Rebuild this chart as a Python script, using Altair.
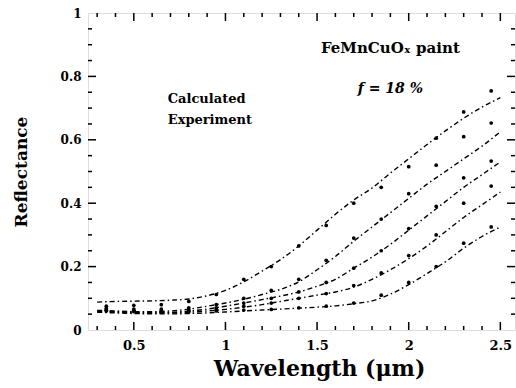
import altair as alt
import pandas as pd

# ---- data ----
wl = [0.3, 0.4, 0.5, 0.6, 0.7, 0.8, 0.9, 1.0, 1.1, 1.2, 1.3, 1.4, 1.5, 1.6,
      1.7, 1.8, 1.9, 2.0, 2.1, 2.2, 2.3, 2.4, 2.5]
calc1 = [0.088, 0.09, 0.091, 0.092, 0.094, 0.098, 0.108, 0.125, 0.152, 0.186, 0.222, 0.265,
         0.315, 0.365, 0.41, 0.448, 0.495, 0.54, 0.585, 0.628, 0.668, 0.703, 0.733]
calc2 = [0.062, 0.060, 0.058, 0.058, 0.060, 0.066, 0.075, 0.085, 0.097, 0.112, 0.128, 0.152,
         0.19, 0.232, 0.28, 0.325, 0.37, 0.415, 0.46, 0.50, 0.54, 0.58, 0.625]
calc3 = [0.060, 0.058, 0.056, 0.055, 0.056, 0.060, 0.066, 0.075, 0.085, 0.096, 0.107, 0.12,
         0.138, 0.16, 0.195, 0.23, 0.27, 0.315, 0.36, 0.405, 0.45, 0.49, 0.53]
calc4 = [0.058, 0.056, 0.054, 0.053, 0.054, 0.056, 0.060, 0.065, 0.072, 0.080, 0.090, 0.100,
         0.110, 0.120, 0.135, 0.160, 0.190, 0.225, 0.265, 0.31, 0.355, 0.395, 0.435]
calc5 = [0.056, 0.054, 0.052, 0.051, 0.051, 0.052, 0.054, 0.057, 0.060, 0.063, 0.066, 0.069,
         0.072, 0.076, 0.083, 0.092, 0.113, 0.143, 0.178, 0.215, 0.258, 0.295, 0.325]

exp_wl = [0.35, 0.5, 0.65, 0.8, 0.95, 1.1, 1.25, 1.4, 1.55, 1.7, 1.85, 2.0, 2.15, 2.3, 2.45]
exp1 = [0.075, 0.078, 0.08, 0.09, 0.112, 0.16, 0.20, 0.265, 0.33, 0.40, 0.45, 0.515, 0.605, 0.688, 0.754]
exp2 = [0.068, 0.066, 0.066, 0.07, 0.08, 0.10, 0.125, 0.16, 0.22, 0.29, 0.35, 0.43, 0.52, 0.61, 0.653]
exp3 = [0.064, 0.062, 0.061, 0.063, 0.07, 0.085, 0.10, 0.12, 0.15, 0.195, 0.25, 0.32, 0.39, 0.48, 0.533]
exp4 = [0.062, 0.060, 0.058, 0.06, 0.064, 0.075, 0.085, 0.10, 0.115, 0.14, 0.18, 0.235, 0.30, 0.40, 0.454]
exp5 = [0.060, 0.058, 0.056, 0.057, 0.06, 0.063, 0.065, 0.07, 0.075, 0.085, 0.11, 0.15, 0.20, 0.274, 0.325]

x_major = [0.5, 1.0, 1.5, 2.0, 2.5]
x_minor = [0.3, 0.4, 0.6, 0.7, 0.8, 0.9, 1.1, 1.2, 1.3, 1.4, 1.6, 1.7, 1.8, 1.9,
           2.1, 2.2, 2.3, 2.4]
y_major = [0.2, 0.4, 0.6, 0.8]
y_minor = [0.05, 0.1, 0.15, 0.25, 0.3, 0.35, 0.45, 0.5, 0.55, 0.65, 0.7, 0.75, 0.85, 0.9, 0.95]

notes_text = ["FeMnCuOₓ paint", "Calculated", "Experiment"]
notes_x = [1.9, 0.685, 0.685]
notes_y = [0.89, 0.728, 0.664]

# ---- tables ----
calc_rows = []
for name, vals in zip(["c1", "c2", "c3", "c4", "c5"], [calc1, calc2, calc3, calc4, calc5]):
    for w, v in zip(wl, vals):
        calc_rows.append({"wl": w, "r": v, "s": name})
calc_df = pd.DataFrame(calc_rows)

exp_rows = []
for name, vals in zip(["c1", "c2", "c3", "c4", "c5"], [exp1, exp2, exp3, exp4, exp5]):
    for w, v in zip(exp_wl, vals):
        exp_rows.append({"wl": w, "r": v, "s": name})
exp_df = pd.DataFrame(exp_rows)

XD = [0.25, 2.58]
YD = [0, 1]
W, H = 427, 317
FONT = "DejaVu Serif"

xs = alt.Scale(domain=XD, nice=False, zero=False)
ys = alt.Scale(domain=YD, nice=False, zero=False)

lines = alt.Chart(calc_df).mark_line(
    color="black", strokeWidth=1.4, strokeDash=[5, 3, 1.5, 3], interpolate="monotone"
).encode(
    x=alt.X("wl:Q", scale=xs,
            axis=alt.Axis(values=x_major, format="~g", ticks=False, grid=False, domain=False,
                          labelFont=FONT, labelFontSize=13, labelFontWeight="bold",
                          labelColor="black", labelPadding=9,
                          title="Wavelength (μm)", titleFont=FONT, titleFontSize=22,
                          titleFontWeight="bold", titleColor="black", titlePadding=6,
                          titleX=231)),
    y=alt.Y("r:Q", scale=ys,
            axis=alt.Axis(values=[0, 0.2, 0.4, 0.6, 0.8, 1], format="~g", ticks=False,
                          grid=False, domain=False,
                          labelFont=FONT, labelFontSize=12, labelFontWeight="bold",
                          labelColor="black", labelPadding=7,
                          title="Reflectance", titleFont=FONT, titleFontSize=17,
                          titleFontWeight="bold", titleColor="black", titlePadding=30)),
    detail="s:N",
)

pts = alt.Chart(exp_df).mark_point(
    filled=True, color="black", size=14, shape="circle", opacity=1
).encode(x=alt.X("wl:Q", scale=xs), y=alt.Y("r:Q", scale=ys))

# inward tick marks
def xticks(vals, length):
    df = pd.DataFrame({"t": vals})
    bot = alt.Chart(df).mark_rule(color="black", strokeWidth=1.5).encode(
        x=alt.X("t:Q", scale=xs), y=alt.value(H), y2=alt.value(H - length))
    top = alt.Chart(df).mark_rule(color="black", strokeWidth=1.5).encode(
        x=alt.X("t:Q", scale=xs), y=alt.value(0), y2=alt.value(length))
    return bot + top

def yticks(vals, length):
    df = pd.DataFrame({"t": vals})
    left = alt.Chart(df).mark_rule(color="black", strokeWidth=1.5).encode(
        y=alt.Y("t:Q", scale=ys), x=alt.value(0), x2=alt.value(length))
    right = alt.Chart(df).mark_rule(color="black", strokeWidth=1.5).encode(
        y=alt.Y("t:Q", scale=ys), x=alt.value(W), x2=alt.value(W - length))
    return left + right

ticks = xticks(x_major, 8) + xticks(x_minor, 4) + yticks(y_major, 8) + yticks(y_minor, 4)

notes_df = pd.DataFrame({"x": notes_x, "y": notes_y, "t": notes_text})
title_txt = alt.Chart(notes_df.iloc[[0]]).mark_text(
    font=FONT, fontSize=15, fontWeight="bold", color="black", align="center", baseline="middle"
).encode(x=alt.X("x:Q", scale=xs), y=alt.Y("y:Q", scale=ys), text="t:N")
leg_txt = alt.Chart(notes_df.iloc[1:]).mark_text(
    font=FONT, fontSize=13, fontWeight="bold", color="black", align="left", baseline="middle"
).encode(x=alt.X("x:Q", scale=xs), y=alt.Y("y:Q", scale=ys), text="t:N")

f_df = pd.DataFrame({"x": [1.9], "y": [0.76], "t": ["f = 18 %"]})
f_txt = alt.Chart(f_df).mark_text(
    font=FONT, fontSize=14, fontWeight="bold", fontStyle="italic", color="black",
    align="center", baseline="middle"
).encode(x=alt.X("x:Q", scale=xs), y=alt.Y("y:Q", scale=ys), text="t:N")

chart = alt.layer(lines, pts, ticks, title_txt, leg_txt, f_txt).properties(
    width=W, height=H,
    autosize=alt.AutoSizeParams(type="none"),
    padding={"left": 88, "top": 13, "right": 1, "bottom": 58},
).configure_view(stroke="black", strokeWidth=2.5).configure(background="white")

chart.save("out.html", embed_options={"renderer": "svg", "actions": False})
